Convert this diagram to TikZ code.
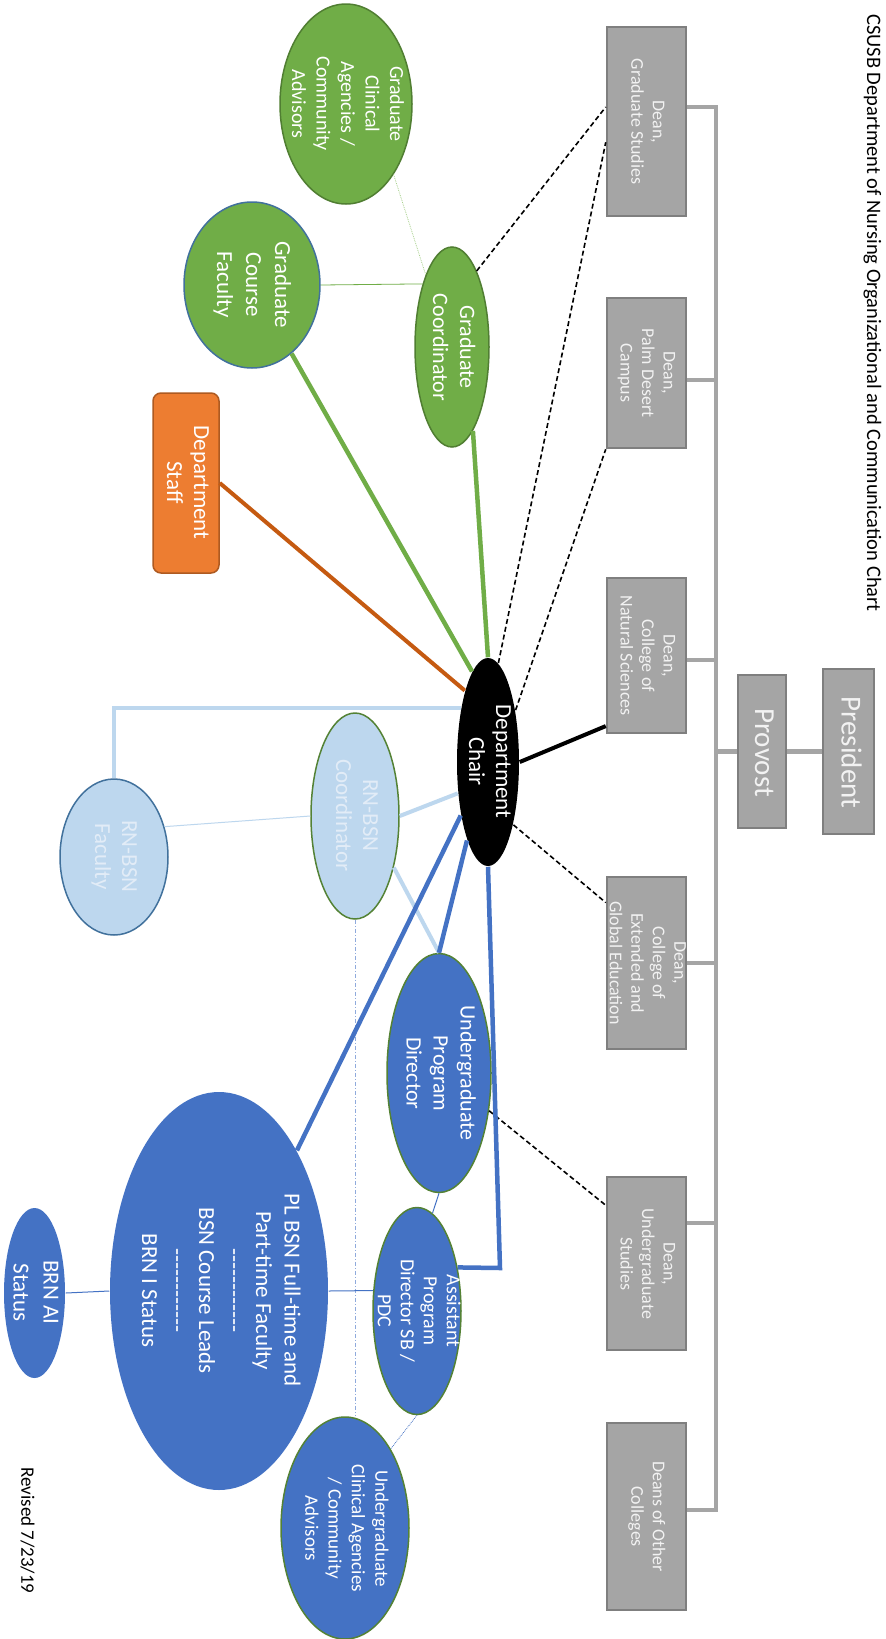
\documentclass[tikz,border=0pt]{standalone}
\usepackage{fontspec}
\setmainfont{Carlito}
\usetikzlibrary{shapes.geometric}
\definecolor{deanfill}{HTML}{A5A5A5}
\definecolor{deanedge}{HTML}{7F7F7F}
\definecolor{deantext}{HTML}{F2F2F2}
\definecolor{gradgreen}{HTML}{70AD47}
\definecolor{gradedge}{HTML}{507E32}
\definecolor{gradthin}{HTML}{A9D18E}
\definecolor{ugblue}{HTML}{4472C4}
\definecolor{ugedge}{HTML}{548235}
\definecolor{blueedge}{HTML}{41719C}
\definecolor{rnblue}{HTML}{BDD7EE}
\definecolor{rntext}{HTML}{E2ECF7}
\definecolor{dashblue}{HTML}{8FAADC}
\definecolor{staffor}{HTML}{ED7D31}
\definecolor{staffedge}{HTML}{AE5A21}
\definecolor{staffline}{HTML}{C55A11}
\newcommand{\vlab}[1]{\makebox[0pt]{\raisebox{-.25em}[0pt][0pt]{\rotatebox[origin=c]{-90}{\begin{tabular}{@{}c@{}}#1\end{tabular}}}}}
\newcommand{\hyphens}{-{}-{}-{}-{}-{}-{}-{}-{}-{}-{}-{}-}

\begin{document}
\begin{tikzpicture}[x=1pt,y=-1pt,
  dean/.style={draw=deanedge,line width=2.5pt,fill=deanfill,text=deantext,minimum width=79pt,inner sep=0pt,font=\fontsize{18}{21.5}\selectfont},
  headbox/.style={dean,font=\fontsize{29}{34}\selectfont},
  oval/.style={ellipse,inner sep=0pt,line width=1.5pt},
  grad/.style={oval,fill=gradgreen,draw=gradedge,text=white},
  ug/.style={oval,fill=ugblue,draw=ugedge,text=white},
  rn/.style={oval,fill=rnblue,text=rntext},
  spine/.style={deanfill,line width=4.5pt},
  deanlink/.style={line width=1.6pt,dash pattern=on 5pt off 3pt},
  thick link/.style={line width=4.5pt}]
  \path[use as bounding box,fill=white] (0,0) rectangle (886,1639);

  \node[font=\fontsize{20.5}{24}\selectfont] (title) at (872,313) {\vlab{CSUSB Department of Nursing Organizational and Communication Chart}};
  \node[font=\fontsize{19}{23}\selectfont] (rev) at (26,1530) {\vlab{Revised 7/23/19}};

  \node[dean,minimum height=189pt] (dgs) at (646.5,121.5) {\vlab{Dean,\\Graduate Studies}};
  \node[dean,minimum height=150pt] (dpd) at (646.5,373) {\vlab{Dean,\\Palm Desert\\Campus}};
  \node[dean,minimum height=155pt] (dns) at (646.5,655.5) {\vlab{Dean,\\College of\\Natural Sciences}};
  \node[dean,minimum height=172pt] (deg) at (646.5,963) {\vlab{Dean,\\College of\\Extended and\\Global Education}};
  \node[dean,minimum height=173pt] (dus) at (646.5,1263.5) {\vlab{Dean,\\Undergraduate\\Studies}};
  \node[dean,minimum height=187pt] (doc) at (646.5,1516.5) {\vlab{Deans of Other\\Colleges}};
  \node[headbox,minimum width=48pt,minimum height=153pt] (prov) at (762,751.5) {\vlab{Provost}};
  \node[headbox,minimum width=51pt,minimum height=165pt] (pres) at (848.5,751.5) {\vlab{President}};

  \coordinate (s1) at (716,107);
  \coordinate (s2) at (716,380);
  \coordinate (s3) at (716,660);
  \coordinate (s4) at (716,963);
  \coordinate (s5) at (716,1223);
  \coordinate (s6) at (716,1510);
  \draw[spine] (dgs.east |- s1) -- (s1) -- (s6) -- (doc.east |- s6);
  \foreach \d/\s in {dpd/s2,dns/s3,deg/s4,dus/s5}
    \draw[spine] (\d.east |- \s) -- (\s);
  \draw[spine] (prov.west) -- (prov.west -| s1);
  \draw[spine] (prov.east) -- (pres.west);

  \node[oval,fill=black,text=white,minimum width=62pt,minimum height=208pt,font=\fontsize{23}{27}\selectfont] (chair) at (488,762) {\vlab{Department\\Chair}};

  \node[grad,minimum width=132pt,minimum height=200pt,font=\fontsize{20}{24.5}\selectfont] (gcl) at (346,104) {\vlab{Graduate\\Clinical\\Agencies /\\Community\\Advisors}};
  \node[grad,draw=blueedge,minimum width=136pt,minimum height=166pt,font=\fontsize{23}{29}\selectfont] (gcf) at (252,285) {\vlab{Graduate\\Course\\Faculty}};
  \node[grad,minimum width=74pt,minimum height=200pt,font=\fontsize{22}{27}\selectfont] (gc) at (452,347) {\vlab{Graduate\\Coordinator}};
  \node[rounded corners=8pt,fill=staffor,draw=staffedge,line width=1.5pt,text=white,minimum width=66pt,minimum height=180pt,font=\fontsize{23}{27}\selectfont] (staff) at (186,483) {\vlab{Department\\Staff}};

  \node[rn,draw=ugedge,minimum width=88pt,minimum height=206pt,font=\fontsize{23}{27}\selectfont] (rnc) at (355,816) {\vlab{RN-BSN\\Coordinator}};
  \node[rn,draw=blueedge,minimum width=108pt,minimum height=156pt,font=\fontsize{23}{27}\selectfont] (rnf) at (114,857) {\vlab{RN-BSN\\Faculty}};

  \node[ug,minimum width=104pt,minimum height=239pt,font=\fontsize{22}{27}\selectfont] (upd) at (439,1073) {\vlab{Undergraduate\\Program\\Director}};
  \node[ug,minimum width=88pt,minimum height=207pt,font=\fontsize{20}{23}\selectfont] (apd) at (417,1311) {\vlab{Assistant\\Program\\Director SB /\\PDC}};
  \node[oval,fill=ugblue,text=white,minimum width=218pt,minimum height=398pt,font=\fontsize{23}{28.5}\selectfont] (pl) at (219,1291) {\vlab{PL BSN Full-time and\\Part-time Faculty\\\hyphens\\BSN Course Leads\\\hyphens\\BRN I Status}};
  \node[oval,fill=ugblue,text=white,minimum width=61pt,minimum height=170pt,font=\fontsize{23}{30}\selectfont] (brn) at (34.5,1293) {\vlab{BRN AI\\Status}};
  \node[ug,minimum width=128pt,minimum height=222pt,font=\fontsize{19}{23.3}\selectfont] (uca) at (345,1528) {\vlab{Undergraduate\\Clinical Agencies\\/ Community\\Advisors}};

  \draw[staffline,line width=4pt] (staff.east) -- (chair.108);
  \draw[gradgreen,thick link] (gcf.300) -- (chair.100);
  \draw[gradgreen,thick link] (gc.284) -- (chair.north);
  \draw[gradgreen,line width=0.8pt] (gcf.east) -- (gc.115);
  \draw[gradthin,line width=0.8pt,densely dotted] (gcl.304) -- (gc.110);

  \draw[deanlink] (gc.72) -- (dgs.west |- s1);
  \draw[deanlink] (chair.84) -- (dgs.207);
  \draw[deanlink] (chair.62) -- (dpd.south west);
  \draw[line width=4pt] (chair.east) -- (dns.240);
  \draw[deanlink] (chair.292) -- (deg.124);
  \draw[deanlink] (upd.323) -- (dus.125);

  \draw[rnblue,line width=4pt] (chair.117) -| (rnf.north);
  \draw[rnblue,line width=1pt] (rnf.31) -- (rnc.west);
  \draw[rnblue,line width=4pt] (chair.226) -- (rnc.east);
  \draw[rnblue,line width=4pt] (rnc.307) -- (upd.north);
  \draw[dashblue,line width=0.8pt,dash pattern=on 4pt off 2pt on 1pt off 2pt] (rnc.south) -- (rnc.south |- uca.north);

  \coordinate (bend) at (500,1268);
  \draw[ugblue,thick link] (chair.255) -- (upd.north);
  \draw[ugblue,thick link] (chair.243) -- (pl.61);
  \draw[ugblue,thick link] (chair.south) -- (bend) -- (apd.47);
  \draw[ugblue,line width=1pt] (upd.south) -- (apd.81);
  \draw[ugblue,line width=1pt] (pl.west) -- (brn.east);
  \draw[ugblue,line width=1pt] (pl.east) -- (apd.155);
  \draw[ugblue,line width=0.8pt,densely dotted] (apd.south) -- (uca.60);

\end{tikzpicture}
\end{document}
